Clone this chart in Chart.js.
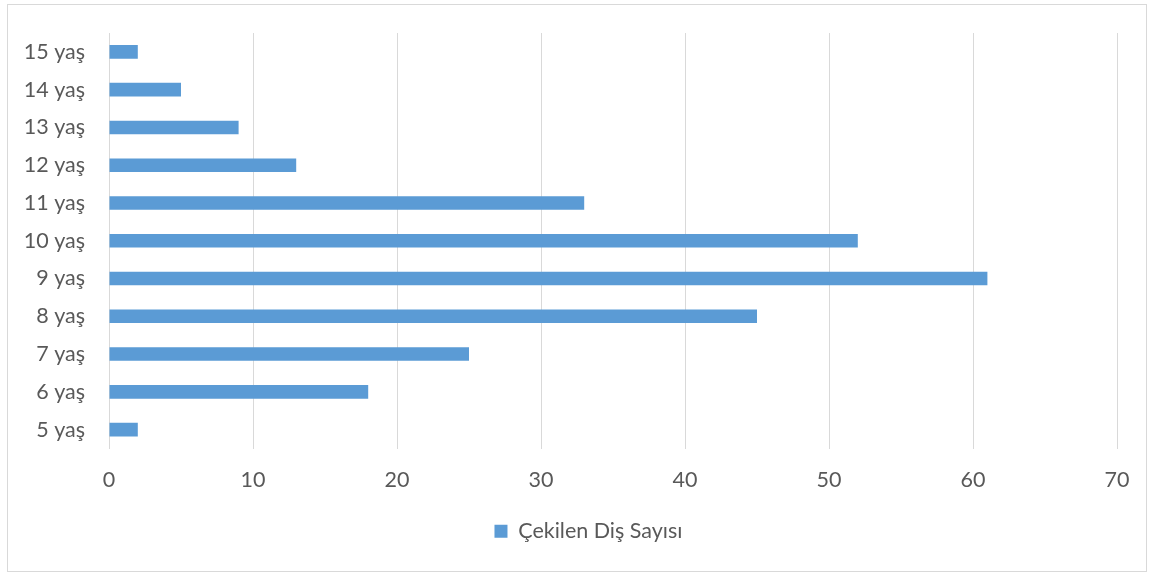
<!DOCTYPE html>
<html>
<head>
<meta charset="utf-8">
<script src="https://cdn.jsdelivr.net/npm/chart.js@4.4.1/dist/chart.umd.min.js"></script>
<style>
  html, body { margin: 0; padding: 0; background: #fff; }
  #wrap { position: relative; width: 1152px; height: 574px; }
  #frame { position: absolute; left: 7px; top: 4px; width: 1138px; height: 566px;
           border: 1px solid #d9d9d9; pointer-events: none; }
</style>
</head>
<body>
<div id="wrap">
  <canvas id="chart" width="1152" height="574"></canvas>
  <div id="frame"></div>
</div>
<script>
// yaş grupları ve çekilen diş sayıları
const ageLabels = ['5 yaş', '6 yaş', '7 yaş', '8 yaş', '9 yaş', '10 yaş', '11 yaş', '12 yaş', '13 yaş', '14 yaş', '15 yaş'];
const toothCounts = [2, 18, 25, 45, 61, 52, 33, 13, 9, 5, 2];
const seriesName = 'Çekilen Diş Sayısı';
const xMin = 0;
const xMax = 70;
const xStep = 10;

const textColor = '#595959';
const gridColor = '#d9d9d9';
const barColor = '#5b9bd5';
const fontFamily = "Lato, 'Open Sans', sans-serif";
const fontSize = 21.5;

// lejantı çerçevenin ortasına biraz sağa kaydır
const legendShift = {
    id: 'legendShift',
    afterLayout(chart) {
        if (chart.legend) {
            chart.legend.left += 30;
            chart.legend.right += 30;
        }
    }
};

const ctx = document.getElementById('chart').getContext('2d');
new Chart(ctx, {
    type: 'bar',
    data: {
        labels: ageLabels,
        datasets: [{
            label: seriesName,
            data: toothCounts,
            backgroundColor: barColor,
            borderWidth: 0,
            barPercentage: 0.36,
            categoryPercentage: 1
        }]
    },
    options: {
        indexAxis: 'y',
        responsive: false,
        animation: false,
        layout: {
            padding: { top: 33, right: 35, bottom: 22, left: 0 }
        },
        scales: {
            x: {
                min: xMin,
                max: xMax,
                ticks: {
                    stepSize: xStep,
                    color: textColor,
                    font: { family: fontFamily, size: fontSize },
                    padding: 19
                },
                grid: { color: gridColor, lineWidth: 1, drawTicks: false },
                border: { display: false },
                afterFit: scale => {
                    scale.height = 64;
                    scale.paddingLeft = 0;
                    scale.paddingRight = 0;
                }
            },
            y: {
                reverse: true,
                ticks: {
                    color: textColor,
                    font: { family: fontFamily, size: fontSize },
                    padding: 24
                },
                grid: { display: false, drawTicks: false },
                border: { display: false },
                afterFit: scale => {
                    scale.width = 109;
                    scale.paddingTop = 0;
                    scale.paddingBottom = 0;
                }
            }
        },
        plugins: {
            legend: {
                position: 'bottom',
                labels: {
                    color: textColor,
                    font: { family: fontFamily, size: fontSize },
                    boxWidth: 13,
                    boxHeight: 13,
                    padding: 8
                }
            },
            tooltip: { enabled: false }
        }
    },
    plugins: [legendShift]
});
</script>
</body>
</html>
